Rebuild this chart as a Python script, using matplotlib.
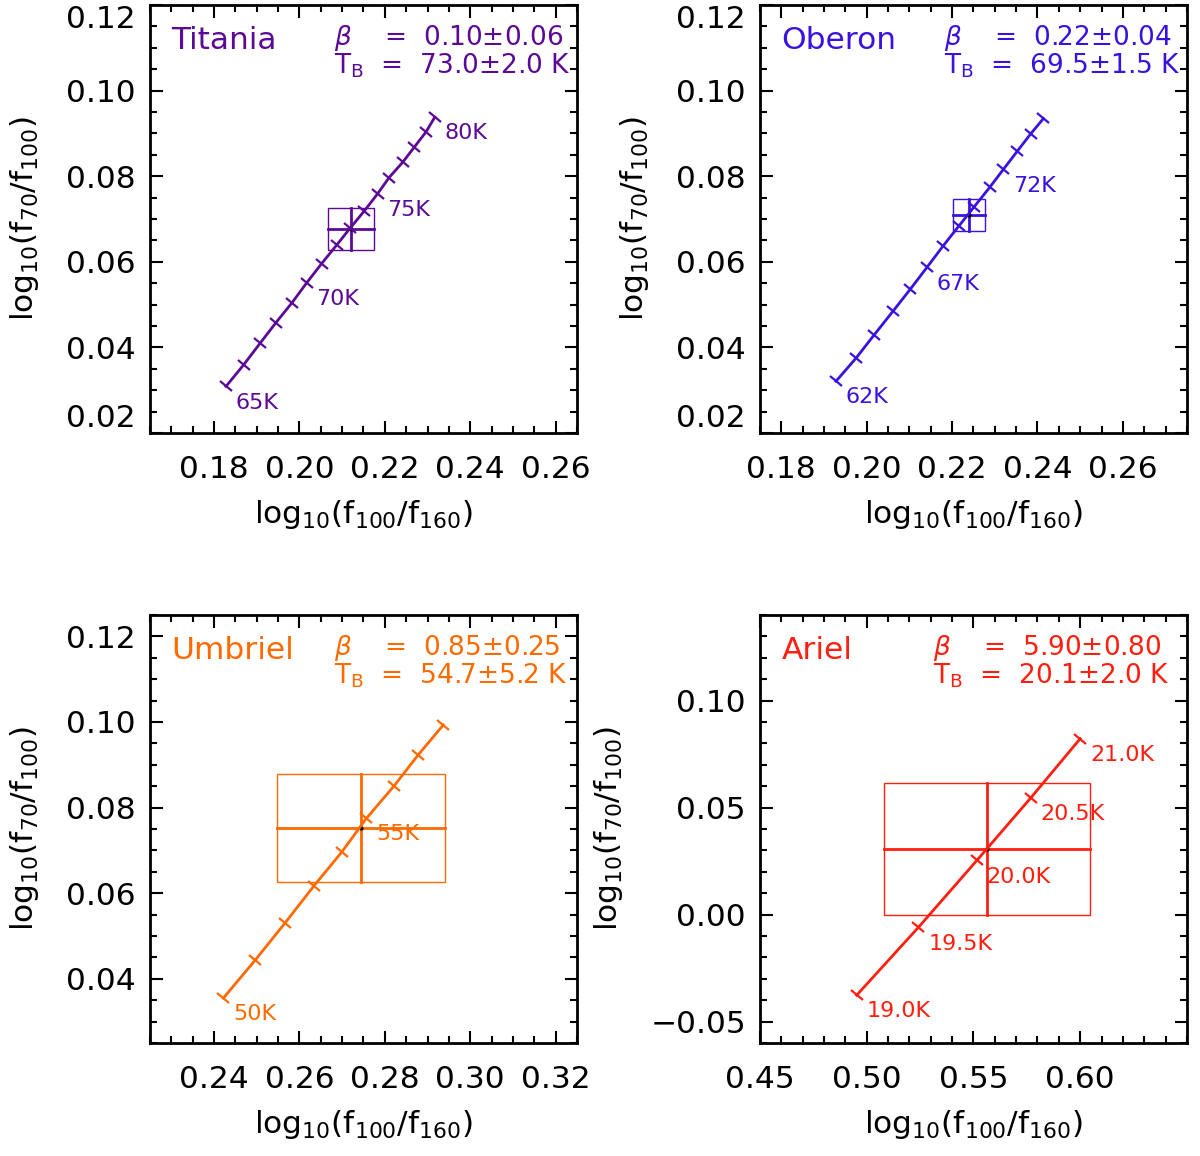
import numpy as np
import matplotlib
matplotlib.use("Agg")
import matplotlib.pyplot as plt
from matplotlib.markers import MarkerStyle
from matplotlib.transforms import Affine2D
from matplotlib.patches import Rectangle
from matplotlib.ticker import FixedLocator, MultipleLocator, FuncFormatter

plt.rcParams['font.family'] = 'DejaVu Sans'
plt.rcParams['mathtext.fontset'] = 'dejavusans'

# ---- Titania ----
tit_T = [65, 66, 67, 68, 69, 70, 71, 72, 73, 74, 75, 76, 77, 78, 79, 80]
tit_x = [0.1828, 0.1869, 0.1908, 0.1945, 0.1983, 0.2017, 0.2052, 0.2087,
         0.2118, 0.2152, 0.2183, 0.2210, 0.2242, 0.2269, 0.2296, 0.2317]
tit_y = [0.0309, 0.0359, 0.0410, 0.0458, 0.0505, 0.0551, 0.0596, 0.0639,
         0.0678, 0.0719, 0.0759, 0.0797, 0.0833, 0.0868, 0.0903, 0.0938]
tit_lab = [65, 70, 75, 80]
tit_pt = (0.2121, 0.0676, 0.0054, 0.0049)   # x, y, err x, err y
tit_txt = ('0.10±0.06', '73.0±2.0 K')

# ---- Oberon ----
obe_T = [62, 63, 64, 65, 66, 67, 68, 69, 70, 71, 72, 73, 74, 75]
obe_x = [0.1928, 0.1975, 0.2018, 0.2061, 0.2102, 0.2141, 0.2178, 0.2216,
         0.2252, 0.2288, 0.2320, 0.2353, 0.2384, 0.2414]
obe_y = [0.0321, 0.0375, 0.0430, 0.0484, 0.0536, 0.0587, 0.0636, 0.0684,
         0.0729, 0.0774, 0.0816, 0.0859, 0.0899, 0.0935]
obe_lab = [62, 67, 72]
obe_pt = (0.2239, 0.0709, 0.0038, 0.0038)
obe_txt = ('0.22±0.04', '69.5±1.5 K')

# ---- Umbriel ----
umb_T = [50, 51, 52, 53, 54, 55, 56, 57, 58]
umb_x = [0.2422, 0.2496, 0.2566, 0.2634, 0.2699, 0.2757, 0.2822, 0.2878, 0.2937]
umb_y = [0.0355, 0.0443, 0.0530, 0.0617, 0.0696, 0.0775, 0.0851, 0.0923, 0.0993]
umb_lab = [50, 55]
umb_pt = (0.2745, 0.0752, 0.0197, 0.0126)
umb_txt = ('0.85±0.25', '54.7±5.2 K')

# ---- Ariel ----
ari_T = [19.0, 19.5, 20.0, 20.5, 21.0]
ari_x = [0.4953, 0.5242, 0.5516, 0.5770, 0.6000]
ari_y = [-0.0377, -0.0060, 0.0253, 0.0547, 0.0822]
ari_lab = [19.0, 19.5, 20.0, 20.5, 21.0]
ari_pt = (0.5565, 0.0305, 0.0482, 0.0309)
ari_txt = ('5.90±0.80', '20.1±2.0 K')

fig = plt.figure(figsize=(12, 11.56), dpi=100)

xlab = r'$\mathrm{log_{10}(f_{100}/f_{160})}$'
ylab = r'$\mathrm{log_{10}(f_{70}/f_{100})}$'
fmt2 = FuncFormatter(lambda v, p: ('%.2f' % v).replace('-', '\u2212'))


def panel(rect, name, color, T, xs, ys, labs, pt, txt, xlim, ylim,
          xmaj, xmin, ymaj, ymin, lab_fmt, txt_x):
    ax = fig.add_axes(rect)
    ax.set_xlim(*xlim)
    ax.set_ylim(*ylim)
    ax.xaxis.set_major_locator(FixedLocator(xmaj))
    ax.xaxis.set_minor_locator(MultipleLocator(xmin))
    ax.yaxis.set_major_locator(FixedLocator(ymaj))
    ax.yaxis.set_minor_locator(MultipleLocator(ymin))
    ax.xaxis.set_major_formatter(fmt2)
    ax.yaxis.set_major_formatter(fmt2)
    ax.tick_params(which='both', direction='in', top=True, right=True,
                   width=1.5, labelsize=22.5)
    ax.tick_params(which='major', length=9)
    ax.tick_params(which='minor', length=5)
    ax.tick_params(axis='x', which='major', pad=16)
    ax.tick_params(axis='y', which='major', pad=10)
    for s in ax.spines.values():
        s.set_linewidth(2)
    ax.set_xlabel(xlab, fontsize=22.5, labelpad=10)
    ax.set_ylabel(ylab, fontsize=22.5, labelpad=18)

    # keep edge tick labels inside the frame
    yt = ax.yaxis.get_major_ticks()
    if abs(ymaj[-1] - ylim[1]) < 1e-9:
        yt[-1].label1.set_va('top')
    if abs(ymaj[0] - ylim[0]) < 1e-9:
        yt[0].label1.set_va('bottom')

    # error box + cross
    cx, cy, ex, ey = pt
    ax.add_patch(Rectangle((cx - ex, cy - ey), 2 * ex, 2 * ey, fill=False,
                           edgecolor=color, lw=1.0))
    ax.plot([cx - ex, cx + ex], [cy, cy], color=color, lw=2)
    ax.plot([cx, cx], [cy - ey, cy + ey], color=color, lw=2)
    ax.plot([cx], [cy], 'o', color='k', ms=2)

    # temperature track with perpendicular ticks
    p0 = ax.transData.transform((xs[0], ys[0]))
    p1 = ax.transData.transform((xs[-1], ys[-1]))
    ang = np.degrees(np.arctan2(p1[1] - p0[1], p1[0] - p0[0]))
    mk = MarkerStyle('|', transform=Affine2D().rotate_deg(ang))
    ax.plot(xs, ys, color=color, lw=2)
    ax.plot(xs, ys, ls='none', marker=mk, ms=11, mew=1.6, color=color)

    for t, x, y in zip(T, xs, ys):
        if t in labs:
            ax.annotate(lab_fmt.format(t), (x, y), xytext=(7, -16),
                        textcoords='offset points', color=color,
                        fontsize=16, va='baseline', ha='left')

    ax.text(0.05, 0.897, name, transform=ax.transAxes, color=color,
            fontsize=22.5, va='baseline', ha='left')
    ax.text(txt_x, 0.906, r'$\beta$    =  ' + txt[0], transform=ax.transAxes,
            color=color, fontsize=19, va='baseline', ha='left')
    ax.text(txt_x, 0.841, r'T$_\mathrm{B}$  =  ' + txt[1],
            transform=ax.transAxes, color=color, fontsize=19,
            va='baseline', ha='left')
    return ax


W, H = 0.3558, 0.3702
panel([0.125, 0.6254, W, H], 'Titania', '#5c0a96', tit_T, tit_x, tit_y,
      tit_lab, tit_pt, tit_txt, (0.165, 0.265), (0.02, 0.12),
      [0.18, 0.20, 0.22, 0.24, 0.26], 0.005,
      [0.02, 0.04, 0.06, 0.08, 0.10, 0.12], 0.005, '{:d}K', 0.43)

panel([0.6333, 0.6254, W, H], 'Oberon', '#3a12e0', obe_T, obe_x, obe_y,
      obe_lab, obe_pt, obe_txt, (0.175, 0.275), (0.02, 0.12),
      [0.18, 0.20, 0.22, 0.24, 0.26], 0.005,
      [0.02, 0.04, 0.06, 0.08, 0.10, 0.12], 0.005, '{:d}K', 0.43)

panel([0.125, 0.0978, W, H], 'Umbriel', '#ff6a00', umb_T, umb_x, umb_y,
      umb_lab, umb_pt, umb_txt, (0.225, 0.325), (0.025, 0.125),
      [0.24, 0.26, 0.28, 0.30, 0.32], 0.005,
      [0.04, 0.06, 0.08, 0.10, 0.12], 0.005, '{:d}K', 0.43)

panel([0.6333, 0.0978, W, H], 'Ariel', '#ff1e0f', ari_T, ari_x, ari_y,
      ari_lab, ari_pt, ari_txt, (0.45, 0.65), (-0.06, 0.14),
      [0.45, 0.50, 0.55, 0.60], 0.01,
      [-0.05, 0.00, 0.05, 0.10], 0.01, '{:.1f}K', 0.405)

fig.savefig('out.png', dpi=100)
